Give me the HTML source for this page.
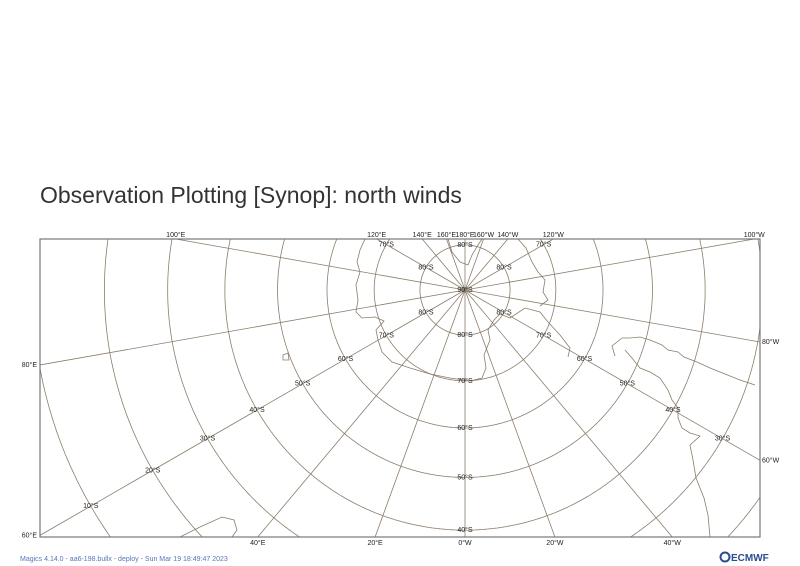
<!DOCTYPE html>
<html><head><meta charset="utf-8"><style>
html,body{margin:0;background:#fff;width:800px;height:566px;overflow:hidden}
svg{display:block}
text{font-family:"Liberation Sans",sans-serif}
</style></head><body>
<svg id="s" width="800" height="566">
<defs><clipPath id="fc"><rect x="40" y="239" width="720" height="298"/></clipPath></defs>
<text x="40" y="203" font-size="23" fill="#333">Observation Plotting [Synop]: north winds</text>
<g id="grid" clip-path="url(#fc)"></g>
<g clip-path="url(#fc)" fill="none" stroke="#8b7d6b" stroke-width="0.8">
<path d="M365,239 L360,250 L357,262 L360,272 L356,285 L358,300 L356,312 L362,318 L375,317 L384,321 L376,330 L378,340 L382,352 L392,362 L410,368 L430,374 L450,378 L470,381 L482,378 L486,368 L484,355 L490,340 L488,330 L494,320 L500,314 L510,318 L525,308 L540,312 L548,322 L560,335 L570,348 L568,357"/>
<path d="M448,239 L452,252 L460,262 L468,265 L472,255 L478,245 L482,239"/>
<path d="M518,239 L526,248 L532,262 L538,272 L545,280 L543,292 L548,300 L540,306"/>
<path d="M615,356 L612,346 L622,338 L630,338 L640,337 L650,340 L662,345 L668,350 L678,352 L684,357 L697,362 L710,368 L725,374 L740,380 L755,385"/>
<path d="M625,350 L632,358 L640,368 L650,372 L660,378 L668,390 L672,400 L678,408 L678,418 L682,428 L690,433 L700,436 L690,445 L693,460 L696,478 L704,498 L708,515 L710,537"/>
<path d="M180,537 L200,527 L222,517 L234,520 L237,530 L232,537"/>
<path d="M283,355 L288,353 L289,360 L283,360 Z"/>
</g>
<rect x="40" y="239" width="720" height="298" fill="none" stroke="#777" stroke-width="1.2"/>
<g id="labels" font-size="7" fill="#222"></g>
<text x="20" y="561" font-size="7" fill="#5577bb">Magics 4.14.0 - aa6-198.bullx - deploy - Sun Mar 19 18:49:47 2023</text>
<g>
<circle cx="725" cy="557" r="4.5" fill="none" stroke="#2a4d8f" stroke-width="2"/>
<text x="731" y="561" font-size="10" font-weight="bold" fill="#2a4d8f">ECMWF</text>
</g>
</svg>
<script>
const lats=[80,70,60,50,40,30,20,10,0];
const lons=[0,20,40,60,80,100,120,140,160,180,-160,-140,-120,-100,-80,-60,-40,-20];
const labelLons=[0,60,120,180,-60,-120];
const labelLats=[80,70,60,50,40,30,20,10];
const CX=465,CY=290,R=515,X0=40,X1=760,Y0=239,Y1=537;
const NS='http://www.w3.org/2000/svg';
const g=document.getElementById('grid'),L=document.getElementById('labels');
function rad(lat){return R*Math.tan((90-lat)*Math.PI/360);}
function pt(lat,lon){const r=rad(lat),a=lon*Math.PI/180;return [CX-r*Math.sin(a),CY+r*Math.cos(a)];}
function el(t,attrs,p){const e=document.createElementNS(NS,t);for(const k in attrs)e.setAttribute(k,attrs[k]);p.appendChild(e);return e;}
function lonName(l){if(l===0)return'0°W';if(l===180)return'180°E';return l>0?l+'°E':(-l)+'°W';}
function inside(x,y){return x>=X0-1&&x<=X1+1&&y>=Y0-1&&y<=Y1+1;}
lats.forEach(lat=>{const r=rad(lat);let d='',pen=false;
for(let i=0;i<=1440;i++){const a=i/1440*2*Math.PI;const x=CX+r*Math.sin(a),y=CY+r*Math.cos(a);
if(inside(x,y)){d+=(pen?'L':'M')+x.toFixed(1)+','+y.toFixed(1);pen=true;}else pen=false;}
if(!d)return;
const c=el('path',{d:d,fill:'none',stroke:'#8b7d6b','stroke-width':0.8},g);
});
lons.forEach(lon=>{
const a=lon*Math.PI/180,dx=-Math.sin(a),dy=Math.cos(a);let tb=1e9;
if(dx>1e-9)tb=Math.min(tb,(X1-CX)/dx);if(dx<-1e-9)tb=Math.min(tb,(X0-CX)/dx);
if(dy>1e-9)tb=Math.min(tb,(Y1-CY)/dy);if(dy<-1e-9)tb=Math.min(tb,(Y0-CY)/dy);
const ex=CX+dx*tb,ey=CY+dy*tb;
const ln=el('line',{x1:CX,y1:CY,x2:ex,y2:ey,stroke:'#8b7d6b','stroke-width':0.8},g);

let x=ex,y=ey,anc='middle';
if(Math.abs(ey-Y0)<0.5){y=Y0-2;}else if(Math.abs(ey-Y1)<0.5){y=Y1+8;}
else if(Math.abs(ex-X1)<0.5){x=X1+2;y=ey+2;anc='start';}else{x=X0-3;y=ey+2;anc='end';}
const t=el('text',{x:x,y:y,'text-anchor':anc},L);t.textContent=lonName(lon);
});
const pl=el('text',{x:CX,y:CY+2,'text-anchor':'middle'},L);pl.textContent='90°S';

labelLons.forEach(lon=>labelLats.forEach(lat=>{const q=pt(lat,lon);
if(q[0]<X0+8||q[0]>X1-8||q[1]<Y0+1||q[1]>Y1-4)return;
const t=el('text',{x:q[0],y:q[1]+2,'text-anchor':'middle'},L);t.textContent=lat+'°S';
}));
</script>
</body></html>
